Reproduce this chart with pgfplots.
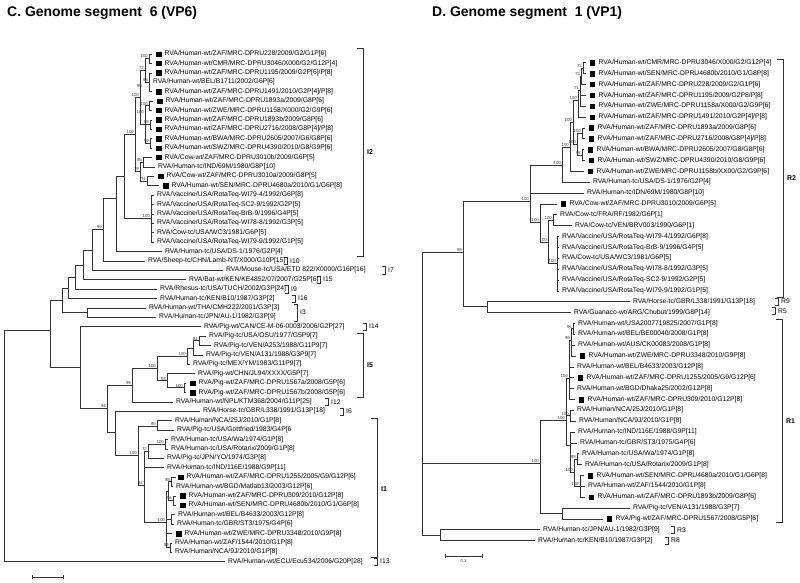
\documentclass[border=0pt]{standalone}
\usepackage{fontspec}
\setmainfont{Liberation Sans}
\usepackage{pgfplots}
\usepackage{pgfplotstable}
\pgfplotsset{compat=1.18}

% tree edges: parent (xp,yp) -> child (xc,yc), drawn as elbows
\pgfplotstableread{
xp yp xc yc
149 58.7 152 54.0
149 58.7 152 63.4
149 82.2 152 72.8
149 82.2 150 82.2
149 82.2 152 91.6
145 70 149 58.7
145 70 149 82.2
149 105.7 153 101.0
149 105.7 152 110.4
150 124.5 152 119.8
150 124.5 152 129.2
150 143.3 152 138.6
150 143.3 152 148.0
145 124.5 149 105.7
145 124.5 150 124.5
145 124.5 150 143.3
140 97 145 70
140 97 145 124.5
143 162.1 152 157.4
143 162.1 155 166.8
147 180.9 154 176.2
147 180.9 159 185.6
140 171.5 143 162.1
140 171.5 147 180.9
135 134 140 97
135 134 140 171.5
151 218.5 154 195.0
151 218.5 154 204.4
151 218.5 154 213.8
151 218.5 154 223.2
151 218.5 154 232.6
151 218.5 154 242.0
124 176 135 134
124 176 151 218.5
116 198 124 176
116 198 162 251.4
103 229 116 198
103 229 145 260.8
92 250 103 229
92 250 223 270.2
83 265 92 250
83 265 186 279.6
75 277 83 265
75 277 157 289.0
68 288 75 277
68 288 157 298.4
87 312.5 146 307.8
87 312.5 156 317.2
62 300 68 288
62 300 87 312.5
199 340.7 206 336.0
199 340.7 211 345.4
193 348 199 340.7
193 348 203 354.8
187 356 193 348
187 356 190 364.2
184 387.7 186 383.0
184 387.7 186 392.4
167 380.6 195 373.6
167 380.6 184 387.7
157 368 187 356
157 368 167 380.6
132 385 157 368
132 385 173 401.8
157 426 172 420.6
157 426 174 430.0
165 444.1 168 439.4
165 444.1 168 448.8
148 451 165 444.1
148 451 164 458.2
171 481.7 176 477.0
171 481.7 173 486.4
173 500.5 176 495.8
173 500.5 176 505.2
168 491 171 481.7
168 491 173 500.5
171 519.3 175 514.6
171 519.3 174 524.0
170 547.5 172 542.8
170 547.5 172 552.2
166 522 168 491
166 522 171 519.3
166 522 172 533.4
166 522 170 547.5
144 485 148 451
144 485 164 467.6
144 485 166 522
138 455 157 426
138 455 144 485
115 432 200 411.2
115 432 138 455
107 408 132 385
107 408 115 432
80 367 201 326.6
80 367 107 408
50 330 62 300
50 330 80 367
4 445 50 330
4 445 225 561.6
}\Ledges

\pgfplotstableread{
xp yp xc yc
583 68.2 586 62.7
583 68.2 586 73.6
581 76 583 68.2
581 76 586 84.4
580 90 581 76
580 90 586 95.3
580 90 586 106.1
578 100 580 90
578 100 586 117.0
582 133.3 585 127.9
582 133.3 585 138.7
582 155 584 149.6
582 155 585 160.4
577 144 582 133.3
577 144 582 155
573 122 578 100
573 122 577 144
570 147 573 122
570 147 584 171.3
562 165 570 147
562 165 590 182.2
530 201 562 165
530 201 584 193.0
530 201 540 222
540 222 557 203.9
540 222 548 242
548 242 553 220
548 242 557 263
553 220 557 214.7
553 220 572 225.6
557 263 559 236.5
557 263 559 247.3
557 263 559 258.2
557 263 559 269.0
557 263 559 279.9
557 263 559 290.8
487 306 630 301.6
487 306 571 312.5
463 252 530 201
463 252 487 306
573 328.7 575 323.3
573 328.7 575 334.2
571 340 573 328.7
571 340 575 345.1
571 340 576 355.9
569 378 571 340
569 378 574 366.8
569 378 574 377.6
569 378 574 388.5
569 378 575 399.4
570 415.6 574 410.2
570 415.6 576 421.1
577 459 579 453.7
577 459 582 464.5
580 486.2 584 475.4
580 486.2 585 486.2
580 486.2 585 497.1
574 472 577 459
574 472 580 486.2
570 445 575 431.9
570 445 577 442.8
570 445 574 472
566 420 569 378
566 420 570 415.6
566 420 570 445
562 513.4 630 508.0
562 513.4 603 518.8
540 463 566 420
540 463 562 513.4
440 535.1 540 529.7
440 535.1 535 540.5
422 400 463 252
422 400 540 463
422 400 440 535.1
}\Redges

\tikzset{
  lab/.style={anchor=west, inner sep=0pt, font=\fontsize{6.8}{7}\selectfont},
  bsl/.style={anchor=east, inner sep=0pt, font=\fontsize{4.3}{5}\selectfont, text=black!80},
  cl/.style={anchor=west, inner sep=0pt, font=\fontsize{6.8}{7}\selectfont},
  clb/.style={anchor=west, inner sep=0pt, font=\bfseries\fontsize{7}{8}\selectfont},
  ttl/.style={anchor=west, inner sep=0pt, font=\bfseries\fontsize{14}{16}\selectfont},
}
\newcommand{\lf}[3]{\node[lab] at (axis cs:#1,#2) {#3};}
\newcommand{\bs}[3]{\node[bsl] at (axis cs:#1,#2) {#3};}

\begin{document}
\begin{tikzpicture}
\begin{axis}[
  scale only axis, width=800bp, height=582bp,
  xmin=0, xmax=800, ymin=0, ymax=582, y dir=reverse,
  hide axis, clip=false,
  tree/.style={black!80, line width=0.55pt, mark=none},
  br/.style={black!80, line width=0.55pt, mark=none},
]
% ---- trees
\addplot[tree, quiver={u=0, v=\thisrow{yc}-\thisrow{yp}}] table[x=xp,y=yp] {\Ledges};
\addplot[tree, quiver={u=\thisrow{xc}-\thisrow{xp}, v=0}] table[x=xp,y=yc] {\Ledges};
\addplot[tree, quiver={u=0, v=\thisrow{yc}-\thisrow{yp}}] table[x=xp,y=yp] {\Redges};
\addplot[tree, quiver={u=\thisrow{xc}-\thisrow{xp}, v=0}] table[x=xp,y=yc] {\Redges};

% ---- study strains (black squares)
\addplot[only marks, mark=square*, mark size=2.3, black] coordinates {
(158.5,54.0) (158.5,63.4) (158.5,72.8) (158.5,91.6) (159.5,101.0) (158.5,110.4)
(158.5,119.8) (158.5,129.2) (158.5,138.6) (158.5,148.0) (158.5,157.4)
(160.5,176.2) (165.5,185.6) (192.5,383.0) (192.5,392.4) (180.5,477.0)
(182.5,495.8) (182.5,505.2) (178.5,533.4)
(592,62.7) (592,73.6) (592,84.4) (592,95.3) (592,106.1) (592,117.0)
(591,127.9) (591,138.7) (590,149.6) (591,160.4) (590,171.3) (563,203.9)
(582,355.9) (580,377.6) (581,399.4) (590,475.4) (591,497.1) (609,518.8)
};

% ---- clade brackets
\addplot[br] coordinates {(357,48) (363,48) (363,256) (357,256)};
\addplot[br] coordinates {(357,333) (363,333) (363,397) (357,397)};
\addplot[br] coordinates {(371,418) (377,418) (377,557) (371,557)};
\addplot[br] coordinates {(284,257) (287,257) (287,264.5) (284,264.5)};
\addplot[br] coordinates {(382,266.5) (385,266.5) (385,274) (382,274)};
\addplot[br] coordinates {(317,276) (320,276) (320,283.5) (317,283.5)};
\addplot[br] coordinates {(285,285.5) (288,285.5) (288,293) (285,293)};
\addplot[br] coordinates {(292,295) (295,295) (295,302) (292,302)};
\addplot[br] coordinates {(294,304) (297,304) (297,321) (294,321)};
\addplot[br] coordinates {(363,323) (366,323) (366,330.5) (363,330.5)};
\addplot[br] coordinates {(325,398.5) (328,398.5) (328,405.5) (325,405.5)};
\addplot[br] coordinates {(340,408) (343,408) (343,415) (340,415)};
\addplot[br] coordinates {(374,558) (377,558) (377,565.5) (374,565.5)};
\addplot[br] coordinates {(777,59) (783,59) (783,297) (777,297)};
\addplot[br] coordinates {(775,298) (778,298) (778,305) (775,305)};
\addplot[br] coordinates {(772,307) (775,307) (775,314.5) (772,314.5)};
\addplot[br] coordinates {(776,319) (782,319) (782,522) (776,522)};
\addplot[br] coordinates {(671,526) (674,526) (674,533) (671,533)};
\addplot[br] coordinates {(665,537) (668,537) (668,544.5) (665,544.5)};
% ---- scale bars
\addplot[br] coordinates {(32,577) (63,577)};
\addplot[br] coordinates {(32,575) (32,579)};
\addplot[br] coordinates {(63,575) (63,579)};
\addplot[br] coordinates {(445,554) (445,558)};
\addplot[br] coordinates {(445,556) (482,556)};
\addplot[br] coordinates {(482,554) (482,558)};

% ---- titles
\node[ttl] at (axis cs:7,13) {C. Genome segment\ \ 6 (VP6)};
\node[ttl] at (axis cs:432,13) {D. Genome segment\ \ 1 (VP1)};

% ---- clade labels
\node[clb] at (axis cs:367,152) {I2};
\node[clb] at (axis cs:367,365) {I5};
\node[clb] at (axis cs:381,489) {I1};
\node[cl] at (axis cs:290,260.8) {I10};
\node[cl] at (axis cs:388,270.2) {I7};
\node[cl] at (axis cs:323,279.6) {I15};
\node[cl] at (axis cs:291,289.0) {I9};
\node[cl] at (axis cs:298,298.4) {I16};
\node[cl] at (axis cs:300,312.5) {I3};
\node[cl] at (axis cs:369,326.6) {I14};
\node[cl] at (axis cs:331,401.8) {I12};
\node[cl] at (axis cs:346,411.2) {I6};
\node[cl] at (axis cs:380,561.6) {I13};
\node[clb] at (axis cs:787,178) {R2};
\node[clb] at (axis cs:786,421) {R1};
\node[cl] at (axis cs:781,301.6) {R9};
\node[cl] at (axis cs:778,310.7) {R5};
\node[cl] at (axis cs:677,529.7) {R3};
\node[cl] at (axis cs:671,540.5) {R8};
\node[bsl, anchor=north] at (axis cs:463.5,559) {0.1};

% ---- bootstrap values (left)
\bs{148}{56.5}{100}
\bs{144}{68}{72}
\bs{148}{80}{98}
\bs{142}{86}{90}
\bs{148}{104}{100}
\bs{144}{112}{100}
\bs{149}{122.5}{98}
\bs{149}{141}{99}
\bs{139}{95}{100}
\bs{134}{132}{100}
\bs{142}{160}{85}
\bs{146}{179}{74}
\bs{139}{169.5}{79}
\bs{150}{216.5}{100}
\bs{102}{227}{90}
\bs{198}{338.7}{84}
\bs{186}{354}{100}
\bs{166}{378.6}{93}
\bs{183}{385.7}{100}
\bs{156}{366}{100}
\bs{131}{383}{99}
\bs{106}{406}{94}
\bs{137}{453}{100}
\bs{156}{424}{95}
\bs{164}{442.1}{100}
\bs{147}{449}{72}
\bs{170}{479.7}{98}
\bs{172}{498.5}{94}
\bs{143}{483}{92}
\bs{165}{520}{100}
\bs{169}{545.5}{84}
% ---- bootstrap values (right)
\bs{582}{66.2}{72}
\bs{580}{74}{73}
\bs{579}{88}{71}
\bs{577}{98}{100}
\bs{581}{131.3}{100}
\bs{581}{153}{98}
\bs{576}{142}{100}
\bs{572}{120}{100}
\bs{569}{145}{100}
\bs{561}{163}{100}
\bs{529}{199}{100}
\bs{539}{220}{100}
\bs{547}{240}{100}
\bs{552}{218}{100}
\bs{556}{261}{100}
\bs{462}{250}{99}
\bs{572}{326.7}{96}
\bs{570}{338}{99}
\bs{568}{376}{100}
\bs{569}{413.6}{100}
\bs{565}{418}{100}
\bs{576}{457}{99}
\bs{573}{470}{100}
\bs{579}{484.2}{100}
\bs{539}{461}{100}

% ---- leaf labels (left)
\lf{164.5}{54.0}{RVA/Human-wt/ZAF/MRC-DPRU228/2009/G2/G1P[6]}
\lf{164.5}{63.4}{RVA/Human-wt/CMR/MRC-DPRU3046/X000/G2/G12P[4]}
\lf{164.5}{72.8}{RVA/Human-wt/ZAF/MRC-DPRU1195/2009/G2P[6]/P[8]}
\lf{153}{82.2}{RVA/Human-wt/BEL/B1711/2002/G6P[6]}
\lf{164.5}{91.6}{RVA/Human-wt/ZAF/MRC-DPRU1491/2010/G2P[4]/P[8]}
\lf{165.5}{101.0}{RVA/Human-wt/ZAF/MRC-DPRU1893a/2009/G8P[6]}
\lf{164.5}{110.4}{RVA/Human-wt/ZWE/MRC-DPRU1158/X000/G2/G9P[6]}
\lf{164.5}{119.8}{RVA/Human-wt/ZAF/MRC-DPRU1893b/2009/G8P[6]}
\lf{164.5}{129.2}{RVA/Human-wt/ZAF/MRC-DPRU2716/2008/G8P[4]/P[8]}
\lf{164.5}{138.6}{RVA/Human-wt/BWA/MRC-DPRU2605/2007/G6/G8P[6]}
\lf{164.5}{148.0}{RVA/Human-wt/SWZ/MRC-DPRU4390/2010/G8/G9P[6]}
\lf{164.5}{157.4}{RVA/Cow-wt/ZAF/MRC-DPRU3010b/2009/G6P[5]}
\lf{158}{166.8}{RVA/Human-tc/IND/69M/1980/G8P[10]}
\lf{166.5}{176.2}{RVA/Cow-wt/ZAF/MRC-DPRU3010a/2009/G8P[5]}
\lf{171.5}{185.6}{RVA/Human-wt/SEN/MRC-DPRU4680a/2010/G1/G6P[8]}
\lf{157}{195.0}{RVA/Vaccine/USA/RotaTeq-WI79-4/1992/G6P[8]}
\lf{157}{204.4}{RVA/Vaccine/USA/RotaTeq-SC2-9/1992/G2P[5]}
\lf{157}{213.8}{RVA/Vaccine/USA/RotaTeq-BrB-9/1996/G4P[5]}
\lf{157}{223.2}{RVA/Vaccine/USA/RotaTeq-WI78-8/1992/G3P[5]}
\lf{157}{232.6}{RVA/Cow-tc/USA/WC3/1981/G6P[5]}
\lf{157}{242.0}{RVA/Vaccine/USA/RotaTeq-WI79-9/1992/G1P[5]}
\lf{165}{251.4}{RVA/Human-tc/USA/DS-1/1976/G2P[4]}
\lf{148}{260.8}{RVA/Sheep-tc/CHN/Lamb-NT/X000/G10P[15]}
\lf{226}{270.2}{RVA/Mouse-tc/USA/ETD 822/X0000/G16P[16]}
\lf{189}{279.6}{RVA/Bat-wt/KEN/KE4852/07/2007/G25P[6]}
\lf{160}{289.0}{RVA/Rhesus-tc/USA/TUCH/2002/G3P[24]}
\lf{160}{298.4}{RVA/Human-tc/KEN/B10/1987/G3P[2]}
\lf{149}{307.8}{RVA/Human-wt/THA/CMH222/2001/G3P[3]}
\lf{159}{317.2}{RVA/Human-tc/JPN/AU-1/1982/G3P[9]}
\lf{204}{326.6}{RVA/Pig-wt/CAN/CE-M-06-0003/2006/G2P[27]}
\lf{209}{336.0}{RVA/Pig-tc/USA/OSU/1977/G5P9[7]}
\lf{214}{345.4}{RVA/Pig-tc/VEN/A253/1988/G11P9[7]}
\lf{206}{354.8}{RVA/Pig-tc/VEN/A131/1988/G3P9[7]}
\lf{193}{364.2}{RVA/Pig-tc/MEX/YM/1983/G11P9[7]}
\lf{198}{373.6}{RVA/Pig-wt/CHN/JL94/XXXX/G5P[7]}
\lf{198.5}{383.0}{RVA/Pig-wt/ZAF/MRC-DPRU1567a/2008/G5P[6]}
\lf{198.5}{392.4}{RVA/Pig-wt/ZAF/MRC-DPRU1567b/2008/G5P[6]}
\lf{176}{401.8}{RVA/Human-wt/NPL/KTM368/2004/G11P[25]}
\lf{203}{411.2}{RVA/Horse-tc/GBR/L338/1991/G13P[18]}
\lf{175}{420.6}{RVA/Human/NCA/25J/2010/G1P[8]}
\lf{177}{430.0}{RVA/Pig-tc/USA/Gottfried/1983/G4P[6}
\lf{171}{439.4}{RVA/Human-tc/USA/Wa/1974/G1P[8]}
\lf{171}{448.8}{RVA/Human-tc/USA/Rotarix/2009/G1P[8]}
\lf{167}{458.2}{RVA/Pig-tc/JPN/YO/1974/G3P[8]}
\lf{167}{467.6}{RVA/Human-tc/IND/116E/1988/G9P[11]}
\lf{186.5}{477.0}{RVA/Human-wt/ZAF/MRC-DPRU1255/2005/G9/G12P[6]}
\lf{176}{486.4}{RVA/Human-wt/BGD/Matlab13/2003/G12P[6]}
\lf{188.5}{495.8}{RVA/Human-wt/ZAF/MRC-DPRU309/2010/G12P[8]}
\lf{188.5}{505.2}{RVA/Human-wt/SEN/MRC-DPRU4680b/2010/G1/G6P[8]}
\lf{178}{514.6}{RVA/Human-wt/BEL/B4633/2003/G12P[8]}
\lf{177}{524.0}{RVA/Human-tc/GBR/ST3/1975/G4P[6]}
\lf{184.5}{533.4}{RVA/Human-wt/ZWE/MRC-DPRU3348/2010/G9P[8]}
\lf{175}{542.8}{RVA/Human-wt/ZAF/1544/2010/G1P[8]}
\lf{175}{552.2}{RVA/Human/NCA/9J/2010/G1P[8]}
\lf{228}{561.6}{RVA/Human-wt/ECU/Ecu534/2006/G20P[28]}
% ---- leaf labels (right)
\lf{598.5}{62.7}{RVA/Human-wt/CMR/MRC-DPRU3046/X000/G2/G12P[4]}
\lf{598.5}{73.6}{RVA/Human-wt/SEN/MRC-DPRU4680b/2010/G1/G8P[8]}
\lf{598.5}{84.4}{RVA/Human-wt/ZAF/MRC-DPRU228/2009/G2/G1P[6]}
\lf{598.5}{95.3}{RVA/Human-wt/ZAF/MRC-DPRU1195/2009/G2P8/P[8]}
\lf{598.5}{106.1}{RVA/Human-wt/ZWE/MRC-DPRU1158a/X000/G2/G9P[6]}
\lf{598.5}{117.0}{RVA/Human-wt/ZAF/MRC-DPRU1491/2010/G2P[4]/P[8]}
\lf{597.5}{127.9}{RVA/Human-wt/ZAF/MRC-DPRU1893a/2009/G8P[6]}
\lf{597.5}{138.7}{RVA/Human-wt/ZAF/MRC-DPRU2716/2008/G8P[4]/P[8]}
\lf{596.5}{149.6}{RVA/Human-wt/BWA/MRC-DPRU2605/2007/G8/G8P[6]}
\lf{597.5}{160.4}{RVA/Human-wt/SWZ/MRC-DPRU4390/2010/G8/G9P[6]}
\lf{596.5}{171.3}{RVA/Human-wt/ZWE/MRC-DPRU1158b/XX00/G2/G9P[6]}
\lf{593}{182.2}{RVA/Human-tc/USA/DS-1/1976/G2P[4]}
\lf{587}{193.0}{RVA/Human-tc/IDN/69M/1980/G8P[10]}
\lf{569.5}{203.9}{RVA/Cow-wt/ZAF/MRC-DPRU3010/2009/G6P[5]}
\lf{560}{214.7}{RVA/Cow-tc/FRA/RF/1982/G6P[1]}
\lf{575}{225.6}{RVA/Cow-tc/VEN/BRV003/1990/G6P[1]}
\lf{562}{236.5}{RVA/Vaccine/USA/RotaTeq-WI79-4/1992/G6P[8]}
\lf{562}{247.3}{RVA/Vaccine/USA/RotaTeq-BrB-9/1996/G4P[5]}
\lf{562}{258.2}{RVA/Cow-tc/USA/WC3/1981/G6P[5]}
\lf{562}{269.0}{RVA/Vaccine/USA/RotaTeq-WI78-8/1992/G3P[5]}
\lf{562}{279.9}{RVA/Vaccine/USA/RotaTeq-SC2-9/1992/G2P[5]}
\lf{562}{290.8}{RVA/Vaccine/USA/RotaTeq-WI79-9/1992/G1P[5]}
\lf{633}{301.6}{RVA/Horse-tc/GBR/L338/1991/G13P[18]}
\lf{574}{312.5}{RVA/Guanaco-wt/ARG/Chubut/1999/G8P[14]}
\lf{578}{323.3}{RVA/Human-wt/USA2007719825/2007/G1P[8]}
\lf{578}{334.2}{RVA/Human-wt/BEL/BE00040/2008/G1P[8]}
\lf{578}{345.1}{RVA/Human-wt/AUS/CK00083/2008/G1P[8]}
\lf{588.5}{355.9}{RVA/Human-wt/ZWE/MRC-DPRU3348/2010/G9P[8]}
\lf{577}{366.8}{RVA/Human-wt/BEL/B4633/2003/G12P[8]}
\lf{586.5}{377.6}{RVA/Human-wt/ZAF/MRC-DPRU1255/2005/G9/G12P[6]}
\lf{577}{388.5}{RVA/Human-wt/BGD/Dhaka25/2002/G12P[8]}
\lf{587.5}{399.4}{RVA/Human-wt/ZAF/MRC-DPRU309/2010/G12P[8]}
\lf{577}{410.2}{RVA/Human/NCA/25J/2010/G1P[8]}
\lf{579}{421.1}{RVA/Human/NCA/9J/2010/G1P[8]}
\lf{578}{431.9}{RVA/Human-tc/IND/116E/1988/G9P[11]}
\lf{580}{442.8}{RVA/Human-tc/GBR/ST3/1975/G4P[6]}
\lf{582}{453.7}{RVA/Human-tc/USA/Wa/1974/G1P[8]}
\lf{585}{464.5}{RVA/Human-tc/USA/Rotarix/2009/G1P[8]}
\lf{596.5}{475.4}{RVA/Human-wt/SEN/MRC-DPRU4680a/2010/G1/G6P[8]}
\lf{588}{486.2}{RVA/Human-wt/ZAF/1544/2010/G1P[8]}
\lf{597.5}{497.1}{RVA/Human-wt/ZAF/MRC-DPRU1893b/2009/G8P[6]}
\lf{633}{508.0}{RVA/Pig-tc/VEN/A131/1988/G3P[7]}
\lf{615.5}{518.8}{RVA/Pig-wt/ZAF/MRC-DPRU1567/2008/G5P[6]}
\lf{543}{529.7}{RVA/Human-tc/JPN/AU-1/1982/G3P[9]}
\lf{538}{540.5}{RVA/Human-tc/KEN/B10/1987/G3P[2]}
\end{axis}
\path (current axis.south west) (current axis.north east);
\end{tikzpicture}
\end{document}
